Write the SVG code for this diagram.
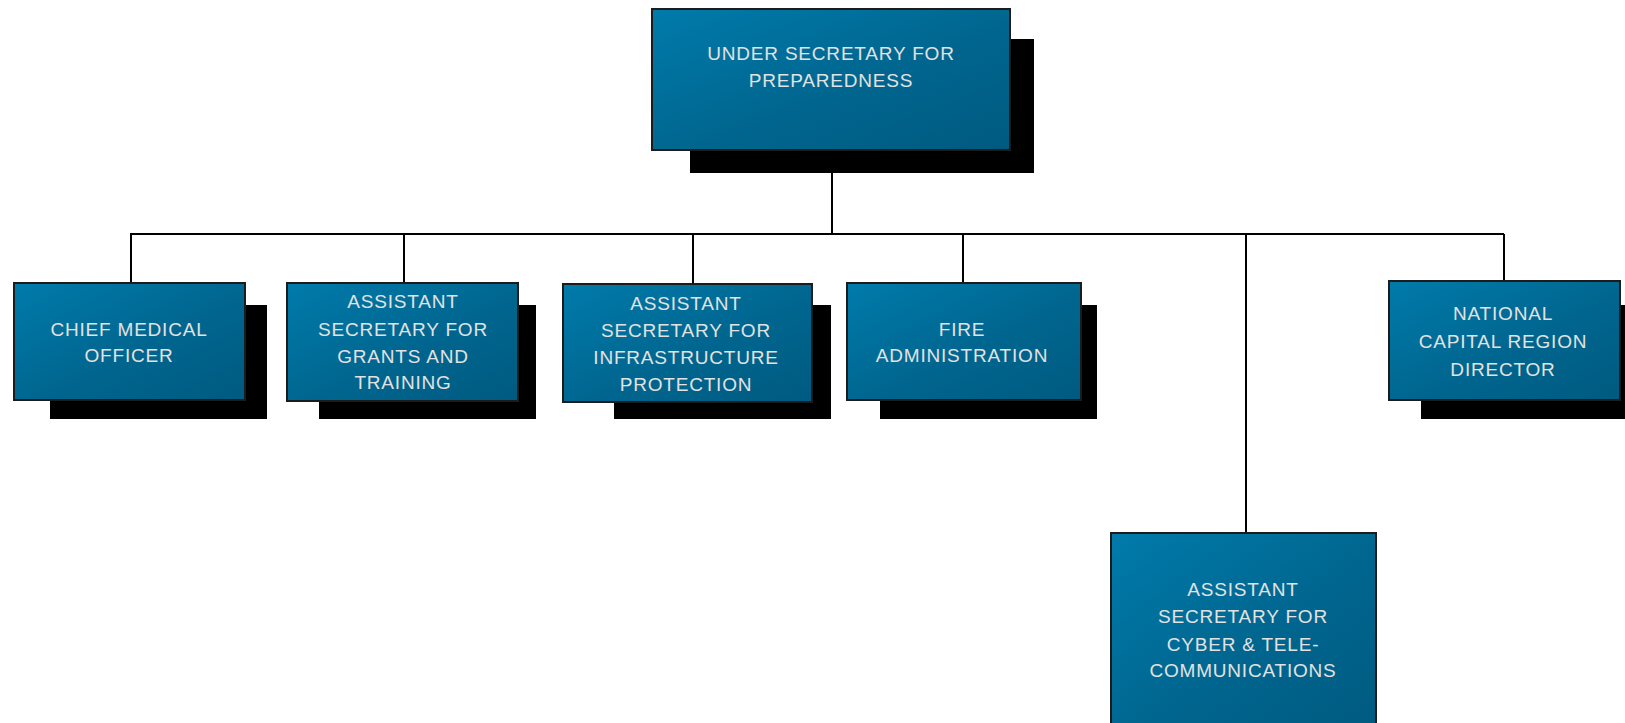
<svg xmlns="http://www.w3.org/2000/svg" width="1625" height="723" viewBox="0 0 1625 723">
  <defs>
    <linearGradient id="boxFill" x1="0" y1="0" x2="1" y2="1">
      <stop offset="0" stop-color="#007bab"/>
      <stop offset="0.55" stop-color="#00668f"/>
      <stop offset="1" stop-color="#005a80"/>
    </linearGradient>
    <style>
      .shadow { fill: #000; }
      .box { fill: url(#boxFill); stroke: #1c1c1c; stroke-width: 2; }
      .label { font-family: "Liberation Sans", Arial, sans-serif; font-size: 19px; letter-spacing: 0.8px; fill: #e2e2e2; text-anchor: middle; }
      .wire { stroke: #000; stroke-width: 2; fill: none; }
    </style>
  </defs>
  <rect width="1625" height="723" fill="#fff"/>

  <!-- reporting lines -->
  <g id="connectors">
    <line class="wire" x1="832" y1="150" x2="832" y2="234"/>
    <line class="wire" x1="130" y1="234" x2="1504" y2="234"/>
    <line class="wire" x1="131" y1="234" x2="131" y2="283"/>
    <line class="wire" x1="404" y1="234" x2="404" y2="283"/>
    <line class="wire" x1="693" y1="234" x2="693" y2="284"/>
    <line class="wire" x1="963" y1="234" x2="963" y2="283"/>
    <line class="wire" x1="1246" y1="234" x2="1246" y2="533"/>
    <line class="wire" x1="1504" y1="234" x2="1504" y2="281"/>
  </g>

  <g id="under-secretary">
    <rect class="shadow" x="690" y="39" width="344" height="134"/>
    <rect class="box" x="652" y="9" width="358" height="141"/>
    <text class="label" x="831" y="60">UNDER SECRETARY FOR</text>
    <text class="label" x="831" y="87">PREPAREDNESS</text>
  </g>

  <g id="chief-medical-officer">
    <rect class="shadow" x="50" y="305" width="217" height="114"/>
    <rect class="box" x="14" y="283" width="231" height="117"/>
    <text class="label" x="129" y="336">CHIEF MEDICAL</text>
    <text class="label" x="129" y="362">OFFICER</text>
  </g>

  <g id="grants-and-training">
    <rect class="shadow" x="319" y="305" width="217" height="114"/>
    <rect class="box" x="287" y="283" width="231" height="118"/>
    <text class="label" x="403" y="308">ASSISTANT</text>
    <text class="label" x="403" y="336">SECRETARY FOR</text>
    <text class="label" x="403" y="363">GRANTS AND</text>
    <text class="label" x="403" y="389">TRAINING</text>
  </g>

  <g id="infrastructure-protection">
    <rect class="shadow" x="614" y="305" width="217" height="114"/>
    <rect class="box" x="563" y="284" width="249" height="118"/>
    <text class="label" x="686" y="310">ASSISTANT</text>
    <text class="label" x="686" y="337">SECRETARY FOR</text>
    <text class="label" x="686" y="364">INFRASTRUCTURE</text>
    <text class="label" x="686" y="391">PROTECTION</text>
  </g>

  <g id="fire-administration">
    <rect class="shadow" x="880" y="305" width="217" height="114"/>
    <rect class="box" x="847" y="283" width="234" height="117"/>
    <text class="label" x="962" y="336">FIRE</text>
    <text class="label" x="962" y="362">ADMINISTRATION</text>
  </g>

  <g id="national-capital-region">
    <rect class="shadow" x="1421" y="305" width="204" height="114"/>
    <rect class="box" x="1389" y="281" width="231" height="119"/>
    <text class="label" x="1503" y="320">NATIONAL</text>
    <text class="label" x="1503" y="348">CAPITAL REGION</text>
    <text class="label" x="1503" y="376">DIRECTOR</text>
  </g>

  <g id="cyber-telecommunications">
    <rect class="box" x="1111" y="533" width="265" height="200"/>
    <text class="label" x="1243" y="596">ASSISTANT</text>
    <text class="label" x="1243" y="623">SECRETARY FOR</text>
    <text class="label" x="1243" y="651">CYBER &amp; TELE-</text>
    <text class="label" x="1243" y="677">COMMUNICATIONS</text>
  </g>
</svg>
